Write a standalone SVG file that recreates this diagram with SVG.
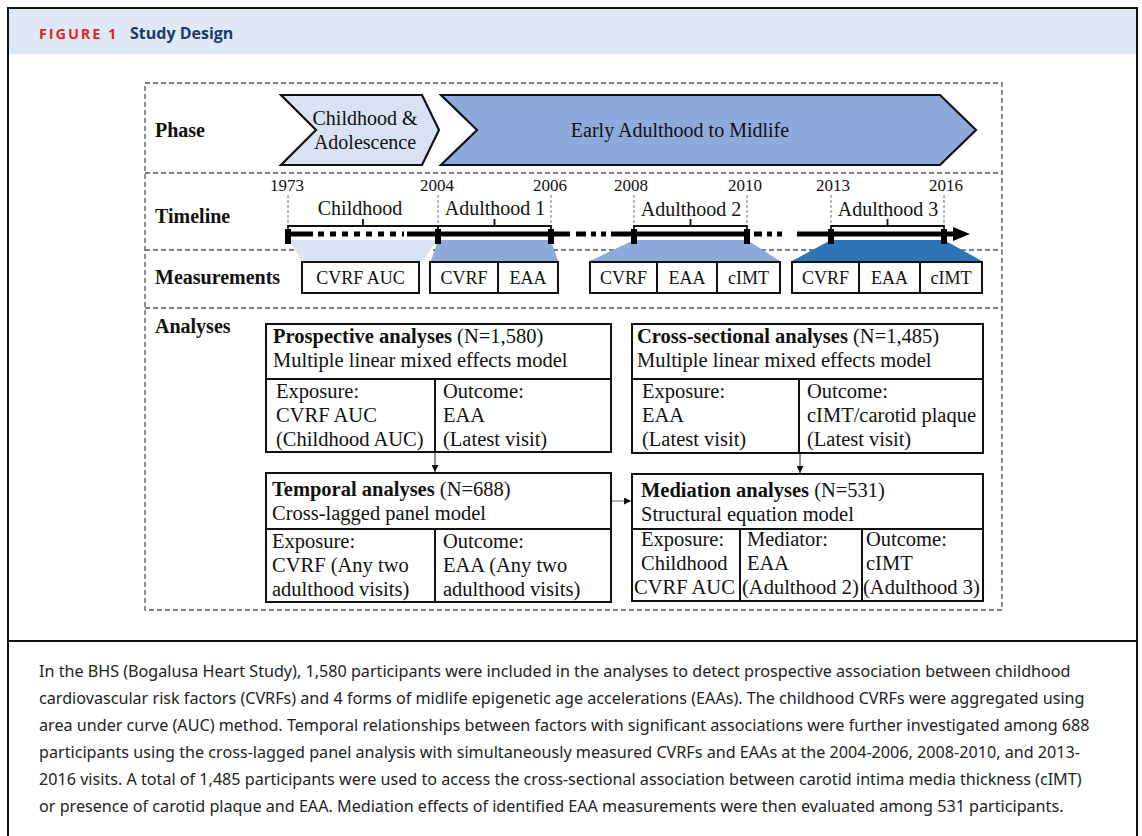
<svg xmlns="http://www.w3.org/2000/svg" width="1142" height="836" viewBox="0 0 1142 836">
<defs>
<style>
.s{font-family:"Liberation Serif","Times New Roman",serif;fill:#111}
.b{font-weight:bold}
.dash{fill:none;stroke:#555;stroke-width:1.3;stroke-dasharray:5,3}
.vd{fill:none;stroke:#777;stroke-width:1;stroke-dasharray:3,2}
.box{fill:#fff;stroke:#111;stroke-width:2}
.ln{fill:none;stroke:#111;stroke-width:2}
.tl{fill:none;stroke:#000;stroke-width:5}
.cap{font-family:"Noto Sans","Open Sans",sans-serif;font-size:16.15px;fill:#222}
</style>
<marker id="ah" viewBox="0 0 10 10" refX="10" refY="5" markerWidth="7" markerHeight="7" markerUnits="userSpaceOnUse" orient="auto">
<path d="M0,0 L10,5 L0,10 z" fill="#111"/>
</marker>
</defs>
<rect x="0" y="0" width="1142" height="836" fill="#fff"/>
<rect x="9" y="9" width="1128" height="45" fill="#dfe9f5"/>
<rect x="8" y="8" width="1129" height="840" fill="none" stroke="#111" stroke-width="2"/>
<line x1="8" y1="641" x2="1137" y2="641" stroke="#111" stroke-width="2"/>
<text x="39" y="39" font-family="Open Sans, Noto Sans, sans-serif" font-weight="bold" font-size="14.5" letter-spacing="1.9" fill="#e3232f">FIGURE 1</text>
<text x="130" y="39" font-family="Open Sans, Noto Sans, sans-serif" font-weight="bold" font-size="16" fill="#1b3a6b">Study Design</text>

<g id="frame">
<rect x="145" y="83" width="857" height="527" class="dash"/>
<line x1="145" y1="173" x2="1002" y2="173" class="dash"/>
<line x1="145" y1="250" x2="1002" y2="250" class="dash"/>
<line x1="145" y1="308" x2="1002" y2="308" class="dash"/>
<text x="155" y="137" class="s b" font-size="20">Phase</text>
<text x="155" y="223" class="s b" font-size="20">Timeline</text>
<text x="155" y="284" class="s b" font-size="20">Measurements</text>
<text x="155" y="333" class="s b" font-size="20">Analyses</text>
</g>

<g id="phase-childhood">
<polygon points="281,95 422,95 439,130 422,165 281,165 316,130" fill="#d9e2f3" stroke="#111" stroke-width="2.2"/>
<text x="365" y="125" class="s" font-size="20" text-anchor="middle">Childhood &amp;</text>
<text x="365" y="149" class="s" font-size="20" text-anchor="middle">Adolescence</text>
</g>
<g id="phase-adulthood">
<polygon points="441,95 940,95 976,130 940,165 441,165 477,130" fill="#8eaadb" stroke="#111" stroke-width="2.2"/>
<text x="680" y="137" class="s" font-size="20" text-anchor="middle">Early Adulthood to Midlife</text>
</g>

<g id="trapezoids">
<polygon points="289,240 437,240 423,261 302,261" fill="#dae3f3"/>
<polygon points="438,240 551,240 558,261 431,261" fill="#8eaadb"/>
<polygon points="634,240 747,240 780,261 590,261" fill="#8eaadb"/>
<polygon points="831,240 944,240 982,261 792,261" fill="#2e75b6"/>
</g>

<g id="timeline">
<g class="vd">
<line x1="288" y1="195" x2="288" y2="226"/>
<line x1="438" y1="195" x2="438" y2="226"/>
<line x1="551" y1="195" x2="551" y2="226"/>
<line x1="634" y1="195" x2="634" y2="226"/>
<line x1="747" y1="195" x2="747" y2="226"/>
<line x1="831" y1="195" x2="831" y2="226"/>
<line x1="944" y1="195" x2="944" y2="226"/>
</g>
<g class="s" font-size="17" text-anchor="middle">
<text x="287" y="191">1973</text>
<text x="437" y="191">2004</text>
<text x="550" y="191">2006</text>
<text x="631" y="191">2008</text>
<text x="745" y="191">2010</text>
<text x="833" y="191">2013</text>
<text x="946" y="191">2016</text>
</g>
<g class="s" font-size="20" text-anchor="middle">
<text x="360" y="215">Childhood</text>
<text x="495" y="215">Adulthood 1</text>
<text x="691" y="216">Adulthood 2</text>
<text x="888" y="216">Adulthood 3</text>
</g>
<g fill="none" stroke="#111" stroke-width="1.8">
<path d="M288,233 V226 H438 V233 M363,226 V219"/>
<path d="M438,233 V226 H551 V233 M494.5,226 V219"/>
<path d="M634,233 V226 H747 V233 M690.5,226 V219"/>
<path d="M831,233 V226 H944 V233 M887.5,226 V219"/>
</g>
<line x1="288" y1="234" x2="313" y2="234" class="tl"/>
<line x1="318" y1="234" x2="404" y2="234" class="tl" stroke-dasharray="6,6"/>
<line x1="407" y1="234" x2="570" y2="234" class="tl"/>
<line x1="576" y1="234" x2="586" y2="234" class="tl"/>
<line x1="591" y1="234" x2="596" y2="234" class="tl"/>
<line x1="601" y1="234" x2="606" y2="234" class="tl"/>
<line x1="611" y1="234" x2="748" y2="234" class="tl"/>
<line x1="754" y1="234" x2="762" y2="234" class="tl"/>
<line x1="767" y1="234" x2="772" y2="234" class="tl"/>
<line x1="777" y1="234" x2="782" y2="234" class="tl"/>
<line x1="797" y1="234" x2="955" y2="234" class="tl"/>
<polygon points="953,227 970,234 953,241" fill="#000"/>
<g fill="#000">
<rect x="285" y="229" width="6" height="15"/>
<rect x="435" y="229" width="6" height="15"/>
<rect x="548" y="229" width="6" height="15"/>
<rect x="631" y="229" width="6" height="15"/>
<rect x="744" y="229" width="6" height="15"/>
<rect x="828" y="229" width="6" height="15"/>
<rect x="941" y="229" width="6" height="15"/>
</g>
</g>

<g id="meas-childhood">
<rect x="302" y="262" width="117" height="31" class="box"/>
<text x="360.5" y="284" class="s" font-size="18" text-anchor="middle">CVRF AUC</text>
</g>
<g id="meas-adulthood1">
<rect x="430" y="262" width="128" height="31" class="box"/>
<line x1="498" y1="262" x2="498" y2="293" class="ln"/>
<text x="464" y="284" class="s" font-size="18" text-anchor="middle">CVRF</text>
<text x="528" y="284" class="s" font-size="18" text-anchor="middle">EAA</text>
</g>
<g id="meas-adulthood2">
<rect x="590" y="262" width="190" height="31" class="box"/>
<line x1="657" y1="262" x2="657" y2="293" class="ln"/>
<line x1="717" y1="262" x2="717" y2="293" class="ln"/>
<text x="623.5" y="284" class="s" font-size="18" text-anchor="middle">CVRF</text>
<text x="687" y="284" class="s" font-size="18" text-anchor="middle">EAA</text>
<text x="748.5" y="284" class="s" font-size="18" text-anchor="middle">cIMT</text>
</g>
<g id="meas-adulthood3">
<rect x="792" y="262" width="190" height="31" class="box"/>
<line x1="859" y1="262" x2="859" y2="293" class="ln"/>
<line x1="920" y1="262" x2="920" y2="293" class="ln"/>
<text x="825.5" y="284" class="s" font-size="18" text-anchor="middle">CVRF</text>
<text x="889.5" y="284" class="s" font-size="18" text-anchor="middle">EAA</text>
<text x="951" y="284" class="s" font-size="18" text-anchor="middle">cIMT</text>
</g>

<g id="prospective" class="s" font-size="20.5">
<rect x="266" y="324" width="345" height="128" class="box"/>
<line x1="266" y1="379" x2="611" y2="379" class="ln"/>
<line x1="435" y1="379" x2="435" y2="452" class="ln"/>
<text x="273" y="343"><tspan class="b">Prospective analyses</tspan> (N=1,580)</text>
<text x="273" y="367">Multiple linear mixed effects model</text>
<text x="276" y="398">Exposure:</text>
<text x="276" y="422">CVRF AUC</text>
<text x="276" y="446">(Childhood AUC)</text>
<text x="443" y="398">Outcome:</text>
<text x="443" y="422">EAA</text>
<text x="443" y="446">(Latest visit)</text>
</g>
<g id="temporal" class="s" font-size="20.5">
<rect x="266" y="473" width="345" height="129" class="box"/>
<line x1="266" y1="529" x2="611" y2="529" class="ln"/>
<line x1="435" y1="529" x2="435" y2="602" class="ln"/>
<text x="272" y="496"><tspan class="b">Temporal analyses</tspan> (N=688)</text>
<text x="272" y="520">Cross-lagged panel model</text>
<text x="272" y="548">Exposure:</text>
<text x="272" y="572">CVRF (Any two</text>
<text x="272" y="596">adulthood visits)</text>
<text x="443" y="548">Outcome:</text>
<text x="443" y="572">EAA (Any two</text>
<text x="443" y="596">adulthood visits)</text>
</g>
<g id="crosssectional" class="s" font-size="20.5">
<rect x="632" y="324" width="351" height="129" class="box"/>
<line x1="632" y1="379" x2="983" y2="379" class="ln"/>
<line x1="799" y1="379" x2="799" y2="453" class="ln"/>
<text x="637" y="343"><tspan class="b">Cross-sectional analyses</tspan> (N=1,485)</text>
<text x="637" y="367">Multiple linear mixed effects model</text>
<text x="642" y="398">Exposure:</text>
<text x="642" y="422">EAA</text>
<text x="642" y="446">(Latest visit)</text>
<text x="807" y="398">Outcome:</text>
<text x="807" y="422">cIMT/carotid plaque</text>
<text x="807" y="446">(Latest visit)</text>
</g>
<g id="mediation" class="s" font-size="20.5">
<rect x="632" y="474" width="351" height="127" class="box"/>
<line x1="632" y1="529" x2="983" y2="529" class="ln"/>
<line x1="740" y1="529" x2="740" y2="601" class="ln"/>
<line x1="862" y1="529" x2="862" y2="601" class="ln"/>
<text x="641" y="497"><tspan class="b">Mediation analyses</tspan> (N=531)</text>
<text x="641" y="521">Structural equation model</text>
<text x="641" y="546">Exposure:</text>
<text x="641" y="570">Childhood</text>
<text x="634" y="594">CVRF AUC</text>
<text x="747" y="546">Mediator:</text>
<text x="747" y="570">EAA</text>
<text x="742" y="594">(Adulthood 2)</text>
<text x="866" y="546">Outcome:</text>
<text x="866" y="570">cIMT</text>
<text x="863" y="594">(Adulthood 3)</text>
</g>

<g id="connectors" fill="none" stroke="#222" stroke-width="1">
<line x1="435" y1="453" x2="435" y2="472" marker-end="url(#ah)"/>
<line x1="800" y1="454" x2="800" y2="473" marker-end="url(#ah)"/>
<line x1="612" y1="501" x2="631" y2="501" stroke="#666" marker-end="url(#ah)"/>
</g>

<g id="caption" class="cap">
<text x="39" y="677">In the BHS (Bogalusa Heart Study), 1,580 participants were included in the analyses to detect prospective association between childhood</text>
<text x="39" y="704">cardiovascular risk factors (CVRFs) and 4 forms of midlife epigenetic age accelerations (EAAs). The childhood CVRFs were aggregated using</text>
<text x="39" y="731">area under curve (AUC) method. Temporal relationships between factors with significant associations were further investigated among 688</text>
<text x="39" y="758">participants using the cross-lagged panel analysis with simultaneously measured CVRFs and EAAs at the 2004-2006, 2008-2010, and 2013-</text>
<text x="39" y="785">2016 visits. A total of 1,485 participants were used to access the cross-sectional association between carotid intima media thickness (cIMT)</text>
<text x="39" y="812">or presence of carotid plaque and EAA. Mediation effects of identified EAA measurements were then evaluated among 531 participants.</text>
</g>
</svg>
